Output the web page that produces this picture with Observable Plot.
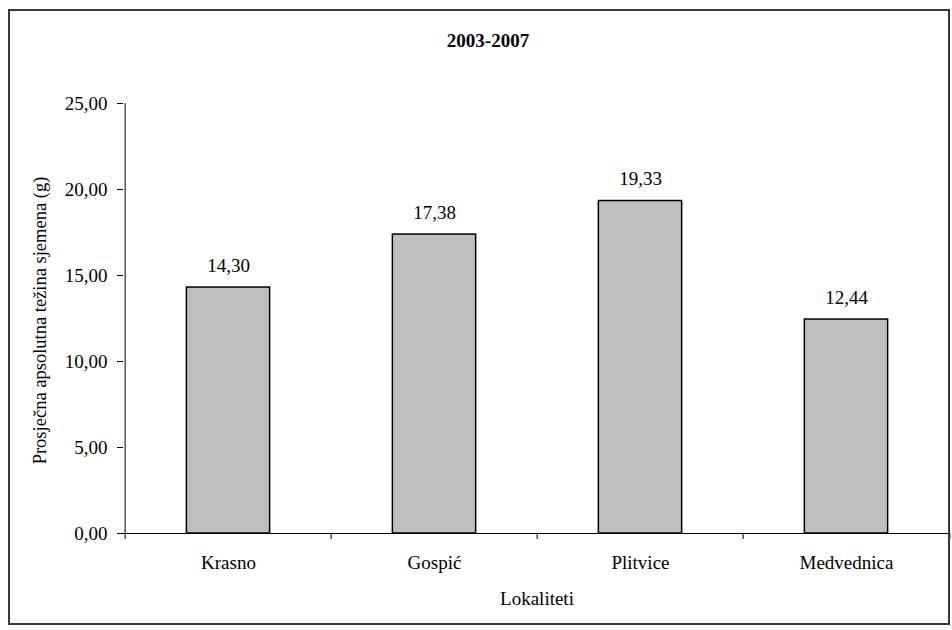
<!DOCTYPE html>
<html>
<head>
<meta charset="utf-8">
<script src="https://cdn.jsdelivr.net/npm/d3@7"></script>
<script src="https://cdn.jsdelivr.net/npm/@observablehq/plot@0.6"></script>
<style>
  html, body { margin: 0; padding: 0; background: #fff; overflow: hidden; }
  #wrap { position: relative; width: 952px; height: 630px; }
  #border { position: absolute; box-sizing: border-box; left: 8px; top: 9px; width: 942px; height: 616px;
            border: 2px solid #3a3a3a; pointer-events: none; }
  svg text { font-family: "Liberation Serif", "Times New Roman", serif; }
</style>
</head>
<body>
<div id="wrap"><div id="border"></div></div>
<script>
const title = "2003-2007";
const yLabel = "Prosječna apsolutna težina sjemena (g)";
const xLabel = "Lokaliteti";
const locations = ["Krasno", "Gospić", "Plitvice", "Medvednica"];
const values = [14.30, 17.38, 19.33, 12.44];
const yTicks = [0, 5, 10, 15, 20, 25];

const data = locations.map((loc, i) => ({loc, value: values[i]}));
const fmt = v => d3.format(".2f")(v).replace(".", ",");

const W = 952, H = 630, mL = 123, mR = 2, mT = 103, mB = 97;
const bw = (W - mL - mR) / locations.length;
const barInset = (bw - 84) / 2;
const serif = '"Liberation Serif", "Times New Roman", serif';
const txt = {fontFamily: serif, fontSize: 19, fill: "#000"};

const chart = Plot.plot({
  width: W, height: H,
  marginLeft: mL, marginRight: mR, marginTop: mT, marginBottom: mB,
  style: 'font-family: "Liberation Serif", "Times New Roman", serif; font-size: 19px; color: #000; background: #fff;',
  x: {type: "band", domain: locations, padding: 0},
  y: {domain: [0, 25]},
  marks: [
    Plot.barY(data, {x: "loc", y: "value", fill: "#c0c0c0", stroke: "#000", strokeWidth: 1.5,
                     insetLeft: barInset, insetRight: barInset}),
    Plot.ruleY([0], {stroke: "#000", strokeWidth: 1}),
    Plot.ruleX([locations[0]], {y1: 0, y2: 25, dx: -bw / 2, stroke: "#000", strokeWidth: 1}),
    Plot.ruleX(locations, {y1: 0, y2: 0, insetBottom: -6, dx: -bw / 2, stroke: "#000", strokeWidth: 1}),
    Plot.ruleX([locations[locations.length - 1]], {y1: 0, y2: 0, insetBottom: -6, dx: bw / 2, stroke: "#000", strokeWidth: 1}),
    Plot.axisY({ticks: yTicks, tickSize: 6, tickPadding: 10, tickFormat: fmt, label: null, stroke: "#000", ...txt}),
    Plot.axisX({tickSize: 0, tickPadding: 21.5, label: null, ...txt}),
    Plot.text(data, {x: "loc", y: "value", text: d => fmt(d.value), dy: -16, lineAnchor: "bottom", ...txt}),
    Plot.text([title], {frameAnchor: "top", dx: -49, dy: -57, lineAnchor: "bottom", textAnchor: "middle", fontWeight: "bold", ...txt}),
    Plot.text([yLabel], {frameAnchor: "left", rotate: -90, dx: -83, dy: 2, textAnchor: "middle", lineAnchor: "middle", ...txt, fontSize: 18.5}),
    Plot.text([xLabel], {frameAnchor: "bottom", dy: 71, lineAnchor: "bottom", textAnchor: "middle", ...txt})
  ]
});
document.getElementById("wrap").insertBefore(chart, document.getElementById("border"));
</script>
</body>
</html>
